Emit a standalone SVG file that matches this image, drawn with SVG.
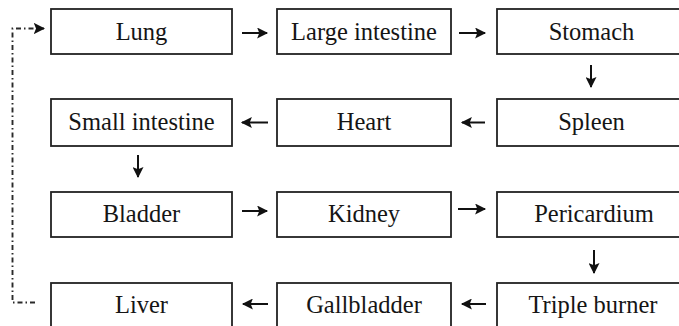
<svg xmlns="http://www.w3.org/2000/svg" width="679" height="326" viewBox="0 0 679 326">
  <style>
    .box { fill: #ffffff; stroke: #222222; stroke-width: 1.8; }
    .label { font-family: "Liberation Serif", "DejaVu Serif", serif; font-size: 24.5px; fill: #151515; text-anchor: middle; }
    .flow { stroke: #111111; stroke-width: 2; fill: none; }
    .loop { stroke: #2a2a2a; stroke-width: 1.9; fill: none; stroke-dasharray: 5 3 1.5 3; }
  </style>
  <defs>
    <marker id="head" viewBox="0 0 10 10" refX="9" refY="5" markerWidth="6" markerHeight="5.5" orient="auto" markerUnits="strokeWidth">
      <path d="M0,0 L10,5 L0,10 L2,5 Z" fill="#111111"/>
    </marker>
    <marker id="loophead" viewBox="0 0 10 10" refX="9" refY="5" markerWidth="6" markerHeight="6" orient="auto" markerUnits="strokeWidth">
      <path d="M0,0 L10,5 L0,10 L2,5 Z" fill="#111111"/>
    </marker>
  </defs>
  <rect width="679" height="326" fill="#ffffff"/>

  <!-- row 1 -->
  <g id="lung"><rect class="box" x="51" y="9" width="181" height="45"/><text class="label" x="141.5" y="40">Lung</text></g>
  <g id="large-intestine"><rect class="box" x="277" y="9" width="174" height="45"/><text class="label" x="364" y="40">Large intestine</text></g>
  <g id="stomach"><rect class="box" x="497" y="9" width="200" height="45"/><text class="label" x="591.5" y="40">Stomach</text></g>

  <!-- row 2 -->
  <g id="small-intestine"><rect class="box" x="51" y="99" width="181" height="47"/><text class="label" x="141.5" y="129.5">Small intestine</text></g>
  <g id="heart"><rect class="box" x="277" y="99" width="174" height="47"/><text class="label" x="364" y="129.5">Heart</text></g>
  <g id="spleen"><rect class="box" x="497" y="99" width="200" height="47"/><text class="label" x="591.5" y="129.5">Spleen</text></g>

  <!-- row 3 -->
  <g id="bladder"><rect class="box" x="51" y="192" width="181" height="45"/><text class="label" x="141.5" y="221.5">Bladder</text></g>
  <g id="kidney"><rect class="box" x="277" y="192" width="174" height="45"/><text class="label" x="364" y="221.5">Kidney</text></g>
  <g id="pericardium"><rect class="box" x="497" y="192" width="200" height="45"/><text class="label" x="594" y="221.5">Pericardium</text></g>

  <!-- row 4 -->
  <g id="liver"><rect class="box" x="51" y="283" width="181" height="50"/><text class="label" x="141.5" y="312.5">Liver</text></g>
  <g id="gallbladder"><rect class="box" x="277" y="283" width="174" height="50"/><text class="label" x="364" y="312.5">Gallbladder</text></g>
  <g id="triple-burner"><rect class="box" x="497" y="283" width="200" height="50"/><text class="label" x="593" y="312.5">Triple burner</text></g>

  <!-- connectors -->
  <g id="connectors">
    <line class="flow" x1="242" y1="33" x2="267" y2="33" marker-end="url(#head)"/>
    <line class="flow" x1="459" y1="33" x2="485" y2="33" marker-end="url(#head)"/>
    <line class="flow" x1="591" y1="65" x2="591" y2="87" marker-end="url(#head)"/>
    <line class="flow" x1="485" y1="122.5" x2="462" y2="122.5" marker-end="url(#head)"/>
    <line class="flow" x1="268" y1="122.5" x2="242" y2="122.5" marker-end="url(#head)"/>
    <line class="flow" x1="138" y1="155" x2="138" y2="177" marker-end="url(#head)"/>
    <line class="flow" x1="242" y1="211" x2="267" y2="211" marker-end="url(#head)"/>
    <line class="flow" x1="458" y1="209" x2="485" y2="209" marker-end="url(#head)"/>
    <line class="flow" x1="594" y1="250" x2="594" y2="273" marker-end="url(#head)"/>
    <line class="flow" x1="486" y1="304" x2="462" y2="304" marker-end="url(#head)"/>
    <line class="flow" x1="268" y1="304" x2="243" y2="304" marker-end="url(#head)"/>
    <path class="loop" d="M35,302.5 H12.5 V28.5 H44" marker-end="url(#loophead)"/>
  </g>
</svg>
